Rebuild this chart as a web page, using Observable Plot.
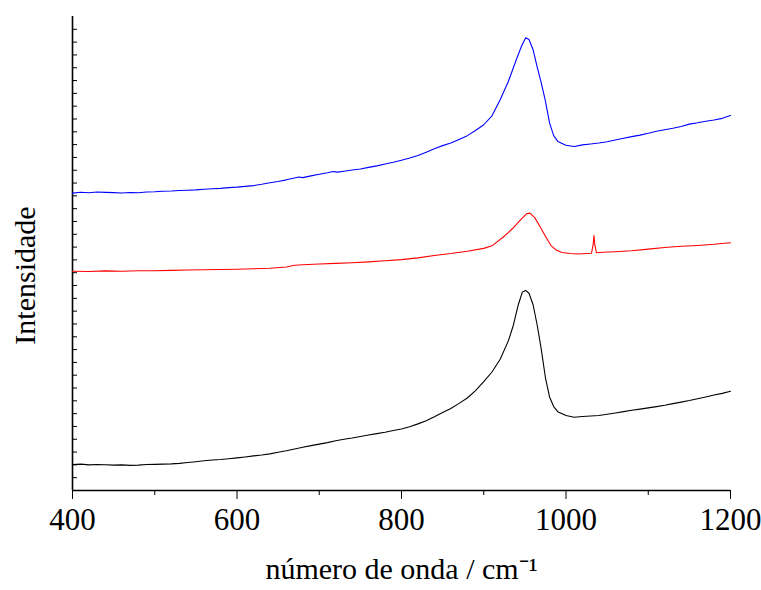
<!DOCTYPE html>
<html>
<head>
<meta charset="utf-8">
<script src="https://cdn.jsdelivr.net/npm/d3@7"></script>
<script src="https://cdn.jsdelivr.net/npm/@observablehq/plot@0.6"></script>
<style>
  html, body { margin: 0; padding: 0; background: #fff; }
  #chart svg { display: block; }
</style>
</head>
<body>
<div id="chart"></div>
<script>
// Wavenumbers (cm-1) and intensities (arbitrary units)
const blueWn = [400,410,420,430,440,450,460,470,480,490,500,510,520,530,540,550,560,570,580,590,600,610,620,630,640,650,660,670,675,680,690,700,710,717,722,730,740,750,760,770,780,790,800,810,820,830,840,850,860,870,880,890,900,910,920,930,940,946,951,955,960,965,970,975,980,985,990,1000,1010,1020,1030,1040,1050,1060,1070,1080,1090,1100,1110,1120,1130,1140,1150,1160,1170,1180,1190,1200];
const blueI  = [23.21,23.28,23.24,23.30,23.27,23.25,23.22,23.26,23.24,23.30,23.32,23.36,23.38,23.42,23.44,23.47,23.52,23.55,23.58,23.64,23.68,23.74,23.80,23.90,24.02,24.12,24.25,24.40,24.47,24.42,24.56,24.68,24.80,24.90,24.85,24.92,25.02,25.10,25.22,25.34,25.48,25.62,25.78,25.95,26.15,26.40,26.68,26.92,27.12,27.40,27.70,28.10,28.55,29.25,30.50,31.95,33.70,34.70,35.34,35.20,34.40,33.04,31.80,30.40,28.70,27.70,27.25,26.95,26.85,26.98,27.05,27.12,27.22,27.36,27.50,27.62,27.74,27.88,28.04,28.16,28.28,28.42,28.60,28.70,28.82,28.92,29.05,29.27];

const redWn = [400,420,440,460,480,500,520,540,560,580,600,620,640,660,670,680,700,720,740,760,780,800,820,840,860,880,900,910,915,925,935,945,952,956,962,968,975,982,988,995,1005,1015,1025,1031,1033,1034,1035,1037,1045,1060,1080,1100,1120,1140,1160,1180,1200];
const redI  = [17.12,17.10,17.14,17.11,17.15,17.15,17.18,17.21,17.23,17.25,17.27,17.31,17.35,17.45,17.58,17.62,17.68,17.73,17.78,17.85,17.93,18.02,18.16,18.35,18.50,18.68,18.90,19.10,19.35,19.85,20.45,21.15,21.60,21.65,21.30,20.65,19.85,19.10,18.78,18.58,18.50,18.46,18.50,18.52,19.20,19.91,19.20,18.56,18.60,18.64,18.72,18.84,18.97,19.06,19.13,19.22,19.34];

const blackWn = [400,410,420,430,440,450,460,470,480,490,500,510,520,530,540,550,560,570,580,590,600,610,620,630,640,650,660,670,680,690,700,710,720,730,740,750,760,770,780,790,800,810,820,830,840,850,860,870,880,890,900,910,920,930,936,942,947,951,955,960,965,970,975,980,985,990,1000,1010,1020,1030,1040,1050,1060,1070,1080,1090,1100,1110,1120,1130,1140,1150,1160,1170,1180,1190,1200];
const blackI  = [2.03,2.06,2.00,2.03,2.01,1.98,2.00,1.96,1.98,2.03,2.04,2.06,2.08,2.12,2.18,2.25,2.32,2.38,2.42,2.48,2.55,2.62,2.70,2.77,2.86,2.98,3.10,3.24,3.38,3.50,3.62,3.74,3.88,4.00,4.10,4.22,4.33,4.44,4.55,4.68,4.80,4.98,5.20,5.45,5.75,6.08,6.40,6.80,7.22,7.80,8.50,9.25,10.25,11.70,12.90,14.50,15.50,15.62,15.40,14.50,12.90,11.00,8.80,7.30,6.55,6.15,5.85,5.72,5.78,5.82,5.86,5.95,6.05,6.16,6.26,6.35,6.45,6.55,6.65,6.78,6.90,7.02,7.16,7.30,7.45,7.58,7.75];

const xMajorTicks = [400, 600, 800, 1000, 1200];
const xMinorTicks = [500, 700, 900, 1100];
const yTicks = d3.range(1, 37);

const toRows = (wn, val) => wn.map((w, i) => ({wn: w, v: val[i]}));
const blue = toRows(blueWn, blueI);
const red = toRows(redWn, redI);
const black = toRows(blackWn, blackI);

const chart = Plot.plot({
  width: 761,
  height: 590,
  marginLeft: 72,
  marginRight: 31,
  marginTop: 16,
  marginBottom: 100,
  style: {fontFamily: "'Liberation Serif', 'Times New Roman', serif", color: "#000", background: "#fff"},
  x: {domain: [400, 1200]},
  y: {domain: [0, 37]},
  marks: [
    Plot.axisX({ticks: xMajorTicks, tickSize: 9, tickPadding: 8, fontSize: 31, label: null, tickFormat: d => String(d)}),
    Plot.axisX({ticks: xMinorTicks, tickSize: 5, tickFormat: () => "", label: null}),
    Plot.axisY({ticks: yTicks, tickSize: -5, tickFormat: () => "", label: null}),
    Plot.text(["Intensidade"], {frameAnchor: "left", textAnchor: "middle", dx: -47, dy: 22, rotate: -90, fontSize: 30, text: d => d}),
    Plot.text(["número de onda / cm⁻¹"], {frameAnchor: "bottom", dy: 88, fontSize: 30, text: d => d}),
    Plot.ruleX([400], {strokeWidth: 1.6}),
    Plot.ruleY([0], {strokeWidth: 1.6}),
    Plot.line(blue, {x: "wn", y: "v", stroke: "#0000ff", strokeWidth: 1.1}),
    Plot.line(red, {x: "wn", y: "v", stroke: "#ff0000", strokeWidth: 1.1}),
    Plot.line(black, {x: "wn", y: "v", stroke: "#000000", strokeWidth: 1.1})
  ]
});
document.getElementById("chart").appendChild(chart);
</script>
</body>
</html>
